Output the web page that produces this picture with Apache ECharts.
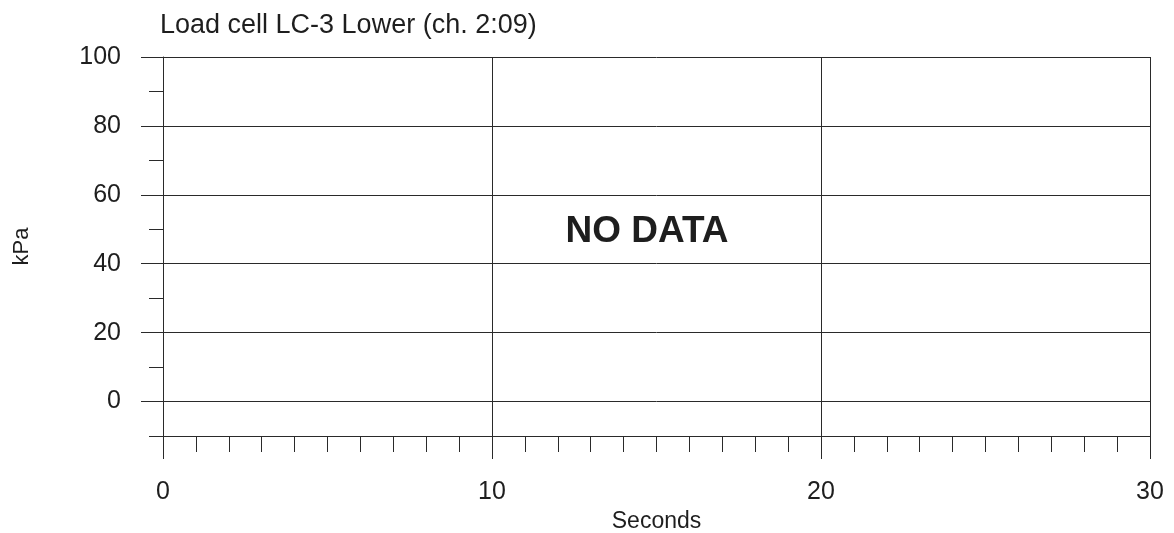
<!DOCTYPE html>
<html>
<head>
<meta charset="utf-8">
<script src="https://cdn.jsdelivr.net/npm/echarts@6/dist/echarts.min.js"></script>
<style>
html,body{margin:0;padding:0;background:#fff;}
#chart{width:1174px;height:533px;}
</style>
</head>
<body>
<div id="chart"></div>
<script>
// Data
const titleText = 'Load cell LC-3 Lower (ch. 2:09)';
const noDataText = 'NO DATA';
const xName = 'Seconds';
const yName = 'kPa';
const xMin = 0, xMax = 30, xMinorStep = 1;
const xMajorTicks = [0, 10, 20, 30];
const yMin = -10, yMax = 100, yMinorStep = 10;
const yMajorTicks = [0, 20, 40, 60, 80, 100];
const seriesValues = []; // no data recorded

const FONT = '"Liberation Sans", Arial, sans-serif';
const LINE = '#2a2a2a';
const TXT = '#1e1e1e';

const chart = echarts.init(document.getElementById('chart'), null, {renderer: 'canvas'});

chart.setOption({
  backgroundColor: '#fff',
  animation: false,
  title: {
    text: titleText,
    left: 155, top: 7,
    textStyle: {fontFamily: FONT, fontSize: 27, fontWeight: 'normal', color: TXT}
  },
  grid: {left: 163, right: 24, top: 57, bottom: 97, containLabel: false, outerBoundsMode: 'none'},
  graphic: [{
    type: 'text',
    x: 647, y: 232,
    style: {text: noDataText, font: 'bold 37px ' + FONT, fill: TXT, textAlign: 'center', textVerticalAlign: 'middle'}
  }],
  xAxis: [{
    type: 'value', min: xMin, max: xMax, interval: xMinorStep, position: 'bottom',
    axisLine: {show: true, onZero: false, lineStyle: {color: LINE, width: 1}},
    axisTick: {show: true, inside: false, length: 16, lineStyle: {color: LINE, width: 1}},
    axisLabel: {show: false},
    splitLine: {show: false}
  }, {
    type: 'value', min: xMin, max: xMax, interval: 10, position: 'bottom',
    name: xName, nameLocation: 'middle', nameGap: 72,
    nameTextStyle: {fontFamily: FONT, fontSize: 23, color: TXT},
    axisLine: {show: false, onZero: false},
    axisTick: {show: true, inside: false, length: 23, customValues: xMajorTicks, lineStyle: {color: LINE, width: 1}},
    axisLabel: {show: true, customValues: xMajorTicks, margin: 44, fontFamily: FONT, fontSize: 25, color: TXT},
    splitLine: {show: true, lineStyle: {color: LINE, width: 1}}
  }],
  yAxis: [{
    type: 'value', min: yMin, max: yMax, interval: yMinorStep, position: 'left',
    axisLine: {show: true, onZero: false, lineStyle: {color: LINE, width: 1}},
    axisTick: {show: true, inside: false, length: 14, lineStyle: {color: LINE, width: 1}},
    axisLabel: {show: false},
    splitLine: {show: false}
  }, {
    type: 'value', min: yMin, max: yMax, interval: yMinorStep, position: 'left',
    name: yName, nameLocation: 'middle', nameGap: 130, nameRotate: 90,
    nameTextStyle: {fontFamily: FONT, fontSize: 22, color: TXT},
    axisLine: {show: false, onZero: false},
    axisTick: {show: true, inside: false, length: 22, customValues: yMajorTicks, lineStyle: {color: LINE, width: 1}},
    axisLabel: {show: true, customValues: yMajorTicks, margin: 42, fontFamily: FONT, fontSize: 25, color: TXT},
    splitLine: {show: true, lineStyle: {color: LINE, width: 1}}
  }],
  series: [{
    type: 'line', xAxisIndex: 0, yAxisIndex: 0,
    data: seriesValues, showSymbol: false
  }]
});
</script>
</body>
</html>
